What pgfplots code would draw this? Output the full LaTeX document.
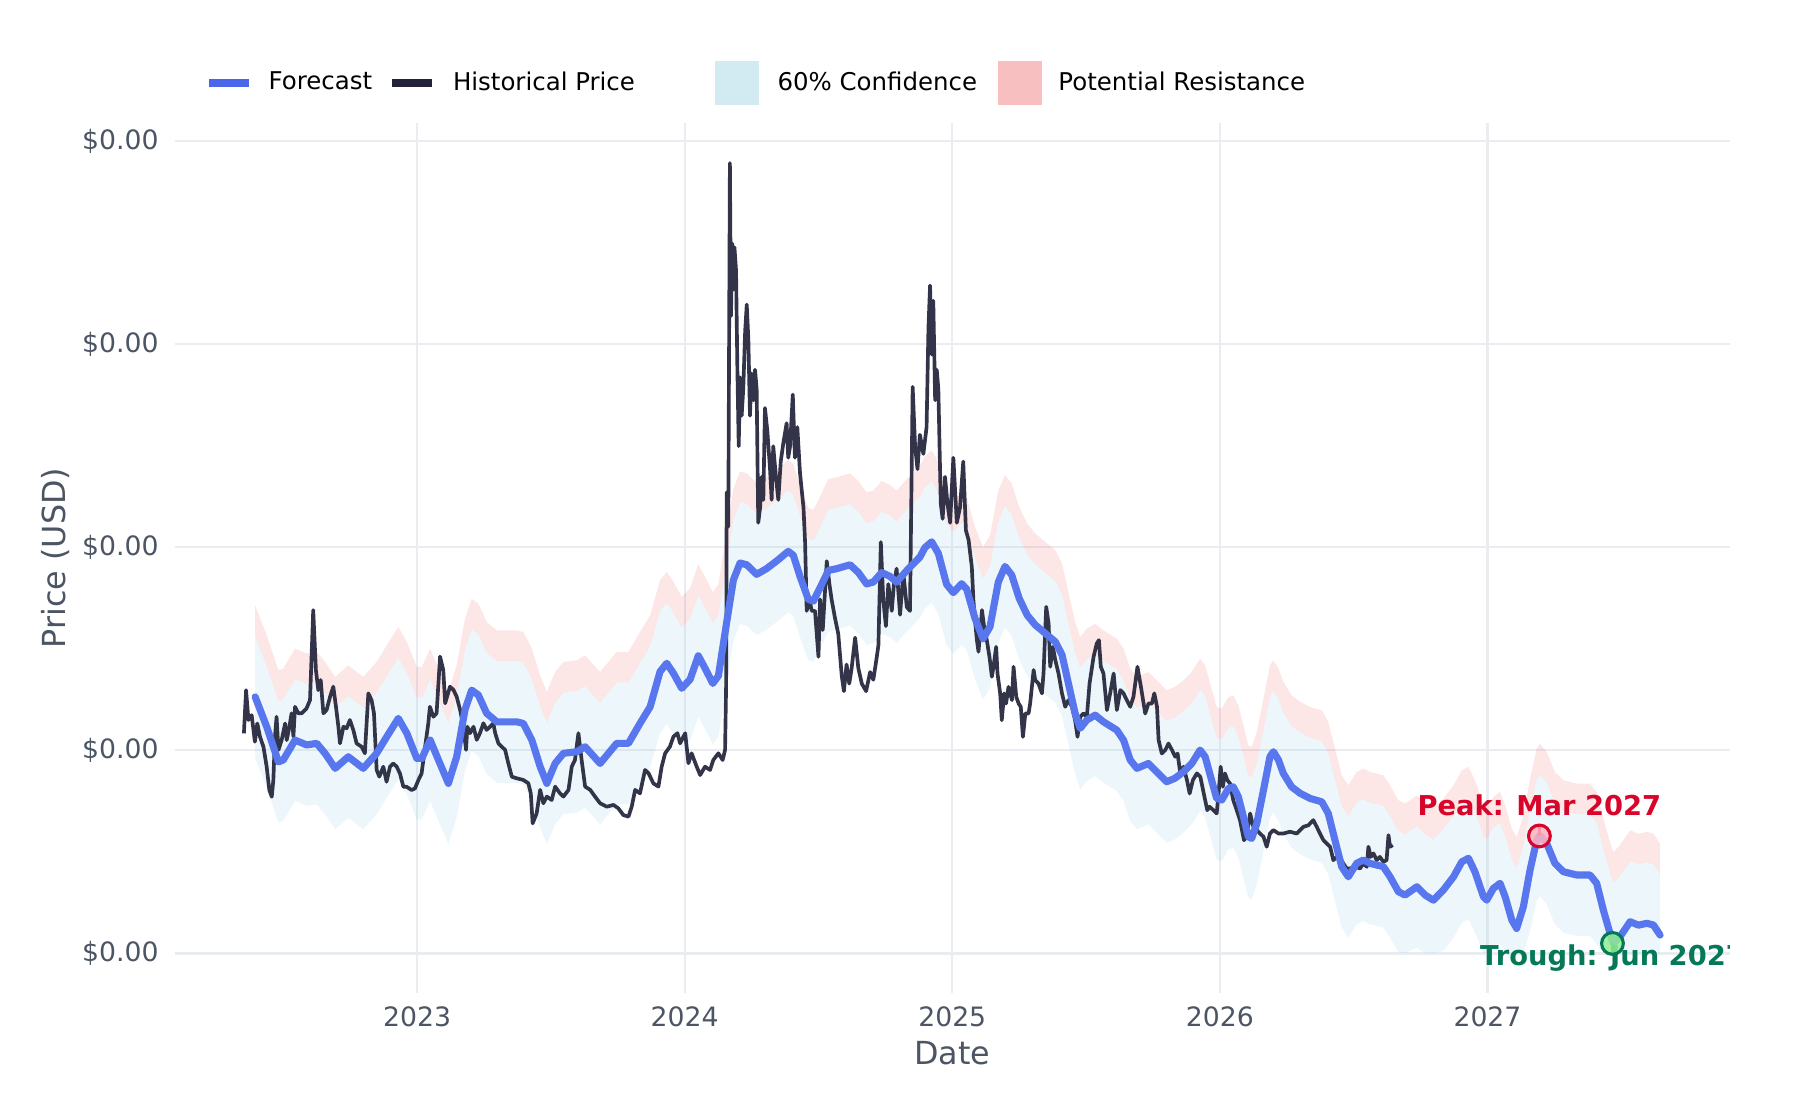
\documentclass[border=0pt]{standalone}
\usepackage{fontspec}
\setmainfont{DejaVu Sans}
\usepackage{pgfplots}
\pgfplotsset{compat=1.18}
\usepackage{pgfplotstable}
\usepgfplotslibrary{fillbetween}
\definecolor{fcblue}{HTML}{5877EE}
\definecolor{fcleg}{HTML}{4A66EA}
\definecolor{histc}{HTML}{22233A}
\definecolor{confc}{HTML}{ADD8E6}
\definecolor{resc}{HTML}{F08080}
\definecolor{gridc}{HTML}{E9ECF1}
\definecolor{tickc}{HTML}{4B5563}
\definecolor{peakred}{HTML}{D90429}
\definecolor{peakfill}{HTML}{FFB3BF}
\definecolor{troughg}{HTML}{047857}
\definecolor{troughfill}{HTML}{90EE90}

\pgfplotstableread{
x y
2022.353 1.083
2022.361 1.296
2022.370 1.149
2022.382 1.173
2022.394 1.042
2022.403 1.132
2022.413 1.067
2022.426 1.017
2022.438 0.919
2022.448 0.804
2022.457 0.771
2022.463 0.853
2022.469 1.067
2022.475 1.165
2022.482 1.001
2022.494 1.050
2022.507 1.132
2022.513 1.050
2022.523 1.116
2022.531 1.182
2022.538 1.067
2022.544 1.214
2022.556 1.182
2022.569 1.182
2022.587 1.206
2022.600 1.247
2022.612 1.690
2022.622 1.395
2022.631 1.296
2022.640 1.346
2022.650 1.182
2022.662 1.198
2022.675 1.264
2022.687 1.313
2022.697 1.214
2022.706 1.116
2022.712 1.034
2022.725 1.116
2022.737 1.108
2022.749 1.149
2022.762 1.099
2022.774 1.034
2022.793 1.017
2022.805 0.985
2022.818 1.280
2022.830 1.247
2022.839 1.182
2022.849 0.903
2022.859 0.870
2022.874 0.919
2022.886 0.845
2022.899 0.919
2022.911 0.935
2022.924 0.919
2022.936 0.886
2022.949 0.820
2022.961 0.820
2022.980 0.804
2022.992 0.812
2023.005 0.853
2023.017 0.886
2023.030 1.017
2023.042 1.132
2023.048 1.214
2023.061 1.165
2023.073 1.182
2023.086 1.461
2023.098 1.395
2023.105 1.231
2023.123 1.313
2023.136 1.297
2023.148 1.264
2023.161 1.198
2023.173 1.116
2023.183 1.002
2023.188 1.116
2023.198 1.084
2023.211 1.116
2023.223 1.051
2023.235 1.084
2023.248 1.133
2023.260 1.100
2023.273 1.116
2023.285 1.133
2023.292 1.084
2023.304 1.034
2023.316 1.018
2023.329 1.002
2023.341 0.936
2023.354 0.870
2023.372 0.862
2023.397 0.854
2023.416 0.837
2023.425 0.788
2023.432 0.640
2023.447 0.690
2023.460 0.805
2023.472 0.739
2023.485 0.772
2023.503 0.755
2023.516 0.821
2023.534 0.788
2023.547 0.772
2023.566 0.805
2023.578 0.919
2023.590 0.952
2023.603 1.084
2023.615 0.952
2023.628 0.821
2023.647 0.805
2023.665 0.772
2023.684 0.739
2023.709 0.722
2023.734 0.731
2023.752 0.714
2023.771 0.681
2023.790 0.673
2023.802 0.722
2023.815 0.805
2023.833 0.788
2023.852 0.903
2023.865 0.887
2023.883 0.837
2023.902 0.821
2023.914 0.919
2023.927 0.985
2023.945 1.018
2023.958 1.067
2023.973 1.084
2023.983 1.034
2024.002 1.084
2024.014 0.936
2024.026 0.985
2024.045 0.919
2024.058 0.878
2024.076 0.919
2024.095 0.903
2024.107 0.952
2024.126 0.985
2024.142 0.952
2024.151 1.002
2024.155 1.328
2024.157 2.270
2024.163 2.100
2024.169 3.891
2024.173 3.137
2024.178 3.495
2024.182 3.269
2024.186 3.476
2024.192 3.363
2024.197 2.873
2024.202 2.497
2024.207 2.836
2024.213 2.647
2024.219 2.779
2024.226 3.062
2024.232 3.194
2024.238 3.024
2024.244 2.647
2024.250 2.855
2024.257 2.723
2024.263 2.873
2024.269 2.779
2024.275 2.120
2024.282 2.195
2024.288 2.346
2024.294 2.233
2024.300 2.685
2024.309 2.572
2024.319 2.384
2024.325 2.233
2024.331 2.497
2024.341 2.346
2024.350 2.233
2024.359 2.421
2024.369 2.515
2024.381 2.610
2024.387 2.440
2024.394 2.497
2024.404 2.751
2024.412 2.440
2024.421 2.591
2024.431 2.365
2024.444 2.195
2024.450 2.025
2024.456 1.686
2024.466 1.743
2024.475 1.686
2024.487 1.686
2024.500 1.460
2024.506 1.743
2024.516 1.592
2024.531 1.931
2024.541 1.818
2024.549 1.743
2024.562 1.649
2024.574 1.573
2024.587 1.366
2024.595 1.291
2024.605 1.422
2024.615 1.328
2024.624 1.404
2024.637 1.554
2024.649 1.404
2024.662 1.328
2024.678 1.291
2024.693 1.385
2024.705 1.347
2024.718 1.460
2024.724 1.517
2024.733 2.025
2024.742 1.743
2024.752 1.611
2024.761 1.818
2024.774 1.686
2024.782 1.818
2024.792 1.894
2024.805 1.667
2024.817 1.875
2024.830 1.705
2024.842 1.686
2024.852 2.789
2024.861 2.497
2024.870 2.384
2024.879 2.553
2024.892 2.459
2024.904 2.591
2024.911 3.081
2024.917 3.288
2024.923 2.949
2024.929 3.213
2024.936 2.723
2024.942 2.873
2024.948 2.779
2024.957 2.214
2024.964 2.139
2024.973 2.346
2024.982 2.214
2024.992 2.120
2025.004 2.440
2025.017 2.120
2025.029 2.195
2025.041 2.421
2025.051 2.082
2025.061 2.035
2025.073 1.903
2025.079 1.739
2025.086 1.624
2025.092 1.542
2025.098 1.485
2025.111 1.690
2025.119 1.608
2025.129 1.542
2025.139 1.460
2025.148 1.362
2025.154 1.411
2025.164 1.509
2025.169 1.378
2025.179 1.280
2025.185 1.148
2025.194 1.280
2025.201 1.230
2025.210 1.312
2025.223 1.247
2025.229 1.411
2025.239 1.263
2025.248 1.230
2025.256 1.214
2025.264 1.066
2025.273 1.181
2025.285 1.181
2025.291 1.230
2025.304 1.395
2025.310 1.345
2025.322 1.329
2025.335 1.280
2025.341 1.378
2025.351 1.706
2025.360 1.624
2025.366 1.411
2025.376 1.509
2025.385 1.444
2025.397 1.378
2025.410 1.280
2025.422 1.214
2025.434 1.247
2025.447 1.214
2025.459 1.148
2025.468 1.066
2025.478 1.165
2025.490 1.181
2025.503 1.165
2025.513 1.329
2025.528 1.460
2025.540 1.526
2025.548 1.542
2025.555 1.411
2025.565 1.378
2025.578 1.198
2025.590 1.280
2025.603 1.378
2025.615 1.198
2025.628 1.296
2025.640 1.280
2025.652 1.247
2025.665 1.214
2025.677 1.263
2025.692 1.411
2025.705 1.312
2025.721 1.181
2025.733 1.230
2025.746 1.230
2025.755 1.280
2025.765 1.214
2025.771 1.050
2025.783 0.984
2025.796 1.001
2025.808 1.033
2025.821 1.001
2025.833 0.968
2025.842 0.984
2025.852 0.886
2025.864 0.919
2025.877 0.853
2025.887 0.787
2025.899 0.853
2025.914 0.886
2025.927 0.869
2025.945 0.754
2025.953 0.705
2025.961 0.722
2025.976 0.705
2025.988 0.689
2025.994 0.771
2026.003 0.919
2026.011 0.820
2026.019 0.886
2026.028 0.853
2026.038 0.836
2026.050 0.754
2026.063 0.705
2026.075 0.656
2026.090 0.557
2026.100 0.574
2026.113 0.689
2026.125 0.623
2026.138 0.607
2026.150 0.590
2026.163 0.574
2026.175 0.525
2026.187 0.590
2026.200 0.607
2026.219 0.590
2026.237 0.590
2026.262 0.599
2026.287 0.590
2026.312 0.623
2026.331 0.631
2026.349 0.656
2026.362 0.623
2026.374 0.590
2026.387 0.557
2026.399 0.541
2026.412 0.525
2026.424 0.459
2026.437 0.475
2026.449 0.475
2026.461 0.443
2026.474 0.418
2026.486 0.418
2026.505 0.426
2026.524 0.418
2026.536 0.443
2026.549 0.426
2026.555 0.525
2026.564 0.475
2026.574 0.492
2026.586 0.459
2026.598 0.475
2026.611 0.451
2026.623 0.459
2026.630 0.582
2026.636 0.525
2026.646 0.533
}\hist

\pgfplotstableread{
x f lo up res
2022.395 1.263 0.963 1.563 1.713
2022.438 1.116 0.816 1.416 1.566
2022.482 0.943 0.643 1.243 1.393
2022.500 0.952 0.652 1.252 1.402
2022.544 1.050 0.750 1.350 1.500
2022.588 1.026 0.726 1.326 1.476
2022.625 1.034 0.734 1.334 1.484
2022.656 0.985 0.685 1.285 1.435
2022.694 0.911 0.611 1.211 1.361
2022.743 0.968 0.668 1.268 1.418
2022.799 0.911 0.611 1.211 1.361
2022.849 0.985 0.685 1.285 1.435
2022.887 1.067 0.767 1.367 1.517
2022.930 1.157 0.857 1.457 1.607
2022.962 1.083 0.783 1.383 1.533
2022.999 0.960 0.660 1.260 1.410
2023.018 0.960 0.660 1.260 1.410
2023.049 1.050 0.750 1.350 1.500
2023.080 0.952 0.652 1.252 1.402
2023.117 0.837 0.537 1.137 1.287
2023.148 0.968 0.668 1.268 1.418
2023.179 1.198 0.898 1.498 1.648
2023.204 1.296 0.996 1.596 1.746
2023.229 1.272 0.972 1.572 1.722
2023.260 1.182 0.882 1.482 1.632
2023.298 1.140 0.840 1.440 1.590
2023.373 1.140 0.840 1.440 1.590
2023.397 1.132 0.832 1.432 1.582
2023.429 1.050 0.750 1.350 1.500
2023.460 0.919 0.619 1.219 1.369
2023.485 0.837 0.537 1.137 1.287
2023.516 0.935 0.635 1.235 1.385
2023.547 0.985 0.685 1.285 1.435
2023.597 0.993 0.693 1.293 1.443
2023.628 1.017 0.717 1.317 1.467
2023.684 0.935 0.635 1.235 1.385
2023.746 1.034 0.734 1.334 1.484
2023.790 1.034 0.734 1.334 1.484
2023.833 1.132 0.832 1.432 1.582
2023.871 1.214 0.914 1.514 1.664
2023.908 1.387 1.087 1.687 1.837
2023.933 1.428 1.128 1.728 1.878
2023.958 1.379 1.079 1.679 1.829
2023.989 1.305 1.005 1.605 1.755
2024.020 1.348 1.048 1.648 1.798
2024.051 1.465 1.165 1.765 1.915
2024.076 1.404 1.104 1.704 1.854
2024.105 1.329 1.029 1.629 1.779
2024.126 1.366 1.066 1.666 1.816
2024.157 1.630 1.330 1.930 2.080
2024.182 1.838 1.538 2.138 2.288
2024.207 1.922 1.622 2.222 2.372
2024.232 1.913 1.613 2.213 2.363
2024.269 1.866 1.566 2.166 2.316
2024.306 1.894 1.594 2.194 2.344
2024.344 1.932 1.632 2.232 2.382
2024.387 1.979 1.679 2.279 2.429
2024.406 1.960 1.660 2.260 2.410
2024.431 1.856 1.556 2.156 2.306
2024.462 1.743 1.443 2.043 2.193
2024.481 1.734 1.434 2.034 2.184
2024.506 1.800 1.500 2.100 2.250
2024.537 1.885 1.585 2.185 2.335
2024.568 1.894 1.594 2.194 2.344
2024.618 1.913 1.613 2.213 2.363
2024.649 1.875 1.575 2.175 2.325
2024.680 1.819 1.519 2.119 2.269
2024.705 1.828 1.528 2.128 2.278
2024.736 1.875 1.575 2.175 2.325
2024.767 1.856 1.556 2.156 2.306
2024.792 1.828 1.528 2.128 2.278
2024.830 1.885 1.585 2.185 2.335
2024.879 1.951 1.651 2.251 2.401
2024.898 1.998 1.698 2.298 2.448
2024.923 2.026 1.726 2.326 2.476
2024.948 1.969 1.669 2.269 2.419
2024.979 1.816 1.516 2.116 2.266
2025.004 1.776 1.476 2.076 2.226
2025.035 1.820 1.520 2.120 2.270
2025.054 1.793 1.493 2.093 2.243
2025.085 1.649 1.349 1.949 2.099
2025.115 1.549 1.249 1.849 1.999
2025.141 1.608 1.308 1.908 2.058
2025.172 1.828 1.528 2.128 2.278
2025.197 1.905 1.605 2.205 2.355
2025.222 1.863 1.563 2.163 2.313
2025.250 1.748 1.448 2.048 2.198
2025.280 1.665 1.365 1.965 2.115
2025.310 1.617 1.317 1.917 2.067
2025.341 1.583 1.283 1.883 2.033
2025.385 1.534 1.234 1.834 1.984
2025.410 1.470 1.170 1.770 1.920
2025.434 1.329 1.029 1.629 1.779
2025.459 1.182 0.882 1.482 1.632
2025.478 1.108 0.808 1.408 1.558
2025.503 1.149 0.849 1.449 1.599
2025.534 1.173 0.873 1.473 1.623
2025.565 1.140 0.840 1.440 1.590
2025.615 1.099 0.799 1.399 1.549
2025.640 1.050 0.750 1.350 1.500
2025.665 0.952 0.652 1.252 1.402
2025.690 0.911 0.611 1.211 1.361
2025.733 0.935 0.635 1.235 1.385
2025.770 0.886 0.586 1.186 1.336
2025.801 0.845 0.545 1.145 1.295
2025.832 0.862 0.562 1.162 1.312
2025.864 0.894 0.594 1.194 1.344
2025.895 0.935 0.635 1.235 1.385
2025.926 1.001 0.701 1.301 1.451
2025.945 0.968 0.668 1.268 1.418
2025.969 0.853 0.553 1.153 1.303
2025.988 0.763 0.463 1.063 1.213
2026.007 0.755 0.455 1.055 1.205
2026.032 0.812 0.512 1.112 1.262
2026.050 0.820 0.520 1.120 1.270
2026.069 0.771 0.471 1.071 1.221
2026.088 0.673 0.373 0.973 1.123
2026.106 0.574 0.274 0.874 1.024
2026.119 0.566 0.266 0.866 1.016
2026.138 0.640 0.340 0.940 1.090
2026.163 0.804 0.504 1.104 1.254
2026.187 0.968 0.668 1.268 1.418
2026.200 0.993 0.693 1.293 1.443
2026.219 0.952 0.652 1.252 1.402
2026.237 0.886 0.586 1.186 1.336
2026.268 0.820 0.520 1.120 1.270
2026.300 0.788 0.488 1.088 1.238
2026.337 0.763 0.463 1.063 1.213
2026.381 0.746 0.446 1.046 1.196
2026.405 0.689 0.389 0.989 1.139
2026.430 0.558 0.258 0.858 1.008
2026.455 0.427 0.127 0.727 0.877
2026.480 0.377 0.077 0.677 0.827
2026.511 0.443 0.143 0.743 0.893
2026.536 0.460 0.160 0.760 0.910
2026.561 0.443 0.143 0.743 0.893
2026.611 0.427 0.127 0.727 0.877
2026.636 0.377 0.077 0.677 0.827
2026.667 0.304 0.004 0.604 0.754
2026.692 0.287 0.000 0.587 0.737
2026.736 0.328 0.028 0.628 0.778
2026.767 0.287 0.000 0.587 0.737
2026.798 0.262 0.000 0.562 0.712
2026.835 0.312 0.012 0.612 0.762
2026.873 0.377 0.077 0.677 0.827
2026.904 0.451 0.151 0.751 0.901
2026.929 0.468 0.168 0.768 0.918
2026.953 0.402 0.102 0.702 0.852
2026.985 0.279 0.000 0.579 0.729
2026.997 0.262 0.000 0.562 0.712
2027.022 0.320 0.020 0.620 0.770
2027.047 0.345 0.045 0.645 0.795
2027.066 0.279 0.000 0.579 0.729
2027.091 0.164 0.000 0.464 0.614
2027.109 0.123 0.000 0.423 0.573
2027.134 0.229 0.000 0.529 0.679
2027.159 0.410 0.110 0.710 0.860
2027.184 0.558 0.258 0.858 1.008
2027.196 0.582 0.282 0.882 1.032
2027.221 0.542 0.242 0.842 0.992
2027.252 0.443 0.143 0.743 0.893
2027.284 0.402 0.102 0.702 0.852
2027.333 0.386 0.086 0.686 0.836
2027.383 0.386 0.086 0.686 0.836
2027.408 0.345 0.045 0.645 0.795
2027.433 0.213 0.000 0.513 0.663
2027.458 0.098 0.000 0.398 0.548
2027.470 0.049 0.000 0.349 0.499
2027.495 0.082 0.000 0.382 0.532
2027.533 0.156 0.000 0.456 0.606
2027.564 0.139 0.000 0.439 0.589
2027.595 0.148 0.000 0.448 0.598
2027.620 0.140 0.000 0.440 0.590
2027.645 0.090 0.000 0.390 0.540
}\fc

\begin{document}
\begin{tikzpicture}
\begin{axis}[
  at={(78.57pt,48.15pt)}, anchor=south west,
  scale only axis, width=699.9pt, height=391.5pt,
  xmin=2022.094, xmax=2027.906, ymin=-0.195, ymax=4.088,
  axis line style={draw=none},
  major tick length=0pt,
  grid=major,
  grid style={color=gridc, line width=1.05pt},
  xtick={2023,2024,2025,2026,2027},
  xticklabels={2023,2024,2025,2026,2027},
  ytick={0,1,2,3,4},
  yticklabels={\$0.00,\$0.00,\$0.00,\$0.00,\$0.00},
  tick label style={font=\fontsize{12}{14}\selectfont, text=tickc},
  xticklabel style={yshift=-2.7pt},
  yticklabel style={xshift=-3.7pt},
  xlabel={Date}, ylabel={Price (USD)},
  label style={font=\fontsize{14.3}{16}\selectfont, text=tickc},
  xlabel style={at={(axis description cs:0.5,-0.0694)}, anchor=center},
  ylabel style={at={(axis description cs:-0.0764,0.5)}, anchor=center},
  legend style={at={(axis description cs:0.0195,1.0465)}, anchor=west,
    draw=none, fill=none, inner sep=0pt, outer sep=0pt,
    font=\fontsize{11}{13}\selectfont,
    column sep=0pt, row sep=0pt,
    nodes={inner sep=0pt, outer sep=0pt}},
  legend columns=4,
  legend cell align=left,
]
% legend entries
\addlegendimage{legend image code/.code={
  \path[draw=none] (0pt,0pt) -- (26.9pt,0pt);
  \draw[line width=3.6pt, color=fcleg] (0pt,0pt) -- (18.2pt,0pt);}}
\addlegendentry{Forecast}
\addlegendimage{legend image code/.code={
  \path[draw=none] (0pt,0pt) -- (36.4pt,0pt);
  \draw[line width=3.6pt, color=histc] (8.9pt,0pt) -- (27.1pt,0pt);}}
\addlegendentry{Historical Price}
\addlegendimage{legend image code/.code={
  \path[draw=none] (0pt,0pt) -- (64.2pt,0pt);
  \fill[draw=none, fill=confc, fill opacity=0.55] (36pt,-9.9pt) rectangle (56pt,9.9pt);}}
\addlegendentry{60\% Confidence}
\addlegendimage{legend image code/.code={
  \path[draw=none] (0pt,0pt) -- (36.6pt,0pt);
  \fill[draw=none, fill=resc, fill opacity=0.5] (9.4pt,-9.9pt) rectangle (29.4pt,9.9pt);}}
\addlegendentry{Potential Resistance}

% historical
\addplot[forget plot, color=histc, line width=1.65pt, line join=round, draw opacity=0.92] table[x=x,y=y]{\hist};

% bands
\addplot[forget plot, draw=none, name path=lo] table[x=x,y=lo]{\fc};
\addplot[forget plot, draw=none, name path=up] table[x=x,y=up]{\fc};
\addplot[forget plot, draw=none, name path=res] table[x=x,y=res]{\fc};
\addplot[forget plot, fill=confc, fill opacity=0.22, draw=none] fill between[of=lo and up];
\addplot[forget plot, fill=resc, fill opacity=0.2, draw=none] fill between[of=up and res];

% forecast
\addplot[forget plot, color=fcblue, line width=3.2pt, line join=round, line cap=round] table[x=x,y=f]{\fc};

% peak and trough
\addplot[forget plot, only marks, mark=*, mark size=4.9pt, mark options={fill=peakfill, draw=peakred, line width=1.4pt, fill opacity=0.85}] coordinates {(2027.194,0.578)};
\draw[peakred, line width=1.2pt] (axis cs:2027.194,0.578) -- ++(0pt,5pt);
\addplot[forget plot, only marks, mark=*, mark size=4.9pt, mark options={fill=troughfill, draw=troughg, line width=1.4pt, fill opacity=0.85}] coordinates {(2027.467,0.049)};
\draw[troughg, line width=1.2pt] (axis cs:2027.467,0.049) -- ++(0pt,-5pt);
\node[font=\bfseries\fontsize{12.3}{14}\selectfont, text=peakred, anchor=base, inner sep=0pt] at (axis cs:2027.194,0.681) {Peak: Mar 2027};
\node[font=\bfseries\fontsize{12.3}{14}\selectfont, text=troughg, anchor=base, inner sep=0pt] at (axis cs:2027.467,-0.058) {Trough: Jun 2027};
\end{axis}
\pgfresetboundingbox
\useasboundingbox (0,0) rectangle (810pt,495pt);
\end{tikzpicture}
\end{document}
